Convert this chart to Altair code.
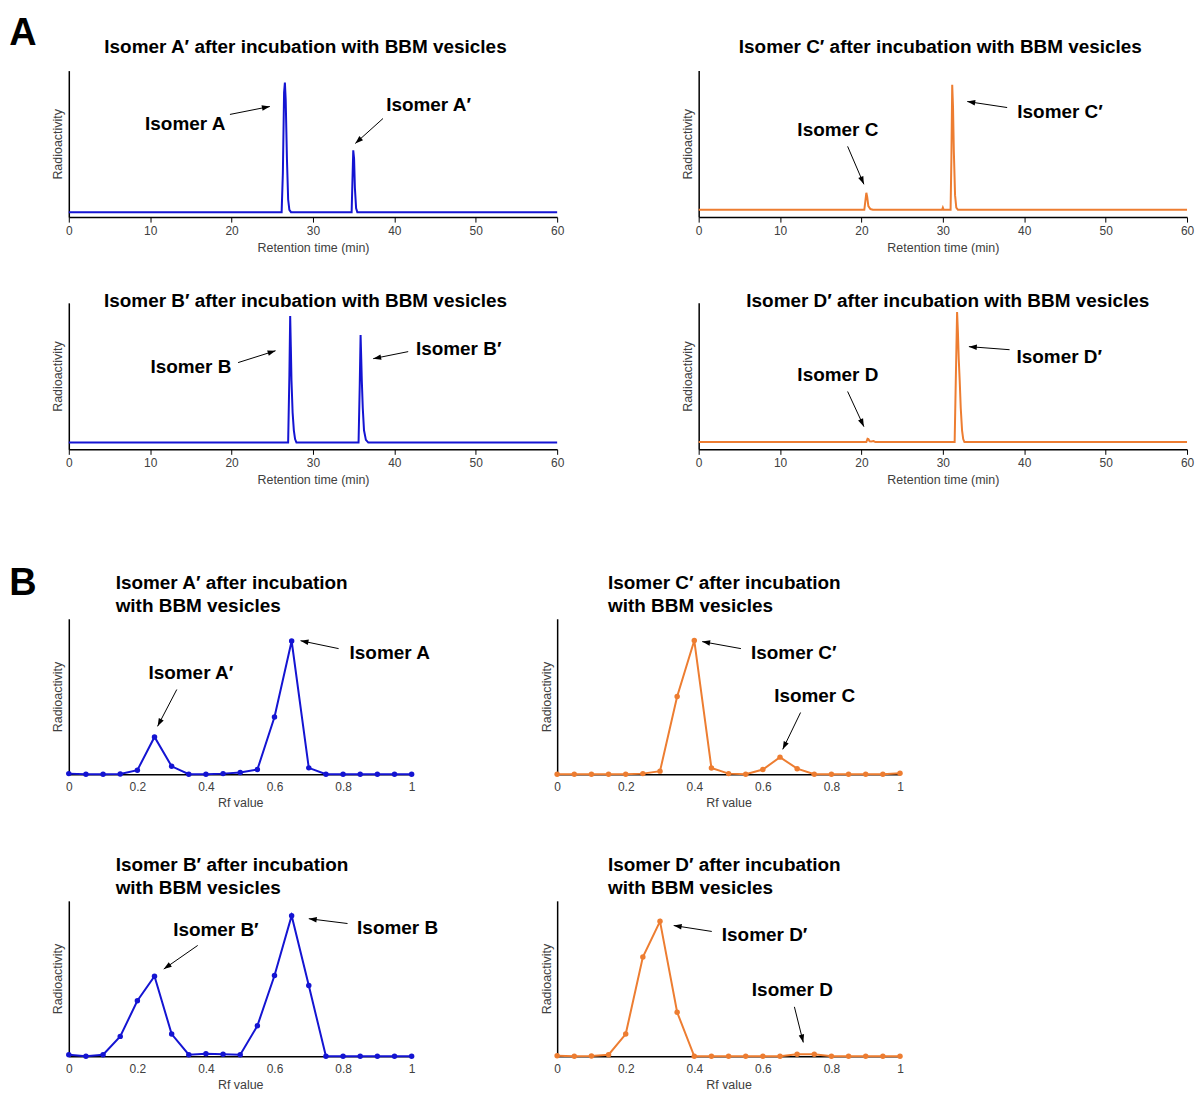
import math
import altair as alt
import pandas as pd

FONT = "Liberation Sans"
BLUE = "#1414D2"
ORANGE = "#ED7D31"
AXIS_GREY = "#404040"

# ---------------- Panel A: HPLC radiochromatograms ----------------
a1_time = [0, 26.15, 26.3, 26.45, 26.55, 26.65, 26.8, 26.95, 27.1, 27.3,
           34.75, 34.85, 34.95, 35.05, 35.15, 35.3, 35.45, 60]
a1_rad = [3.4, 3.4, 30, 85, 91.8, 80, 40, 12, 5, 3.4,
          3.4, 25, 45.6, 40, 20, 6, 3.4, 3.4]

a2_time = [0, 20.35, 20.5, 20.6, 20.7, 20.85, 21.1, 21.4, 29.9, 30.0, 30.1,
           30.95, 31.05, 31.15, 31.25, 31.35, 31.5, 31.65, 31.85, 60]
a2_rad = [5, 5, 12, 16.6, 14, 7.5, 5.5, 5, 5, 6.5, 5,
          5, 40, 90.3, 75, 45, 15, 6.5, 5, 5]

a3_time = [0, 26.95, 27.1, 27.2, 27.28, 27.36, 27.5, 27.65, 27.8, 27.97,
           35.6, 35.75, 35.85, 35.93, 36.0, 36.12, 36.27, 36.5, 36.8, 60]
a3_rad = [4.6, 4.6, 50, 91, 70, 47, 25, 13, 7, 4.6,
          4.6, 45, 78, 62, 47, 28, 13, 6.5, 4.6, 4.6]

a4_time = [0, 20.6, 20.75, 20.85, 21.0, 21.2, 21.5, 21.7,
           31.45, 31.6, 31.75, 31.85, 31.95, 32.07, 32.2, 32.36, 32.5, 32.65, 60]
a4_rad = [5, 5, 7.2, 7, 5.5, 5.3, 5.6, 5,
          5, 50, 93.7, 80, 62, 47, 28, 13, 7, 5, 5]

a_titles = [
    "Isomer A\u2032 after incubation with BBM vesicles",
    "Isomer C\u2032 after incubation with BBM vesicles",
    "Isomer B\u2032 after incubation with BBM vesicles",
    "Isomer D\u2032 after incubation with BBM vesicles",
]
a_ticks = [0, 10, 20, 30, 40, 50, 60]

# ---------------- Panel B: TLC profiles ----------------
rf_values = [0, 0.05, 0.1, 0.15, 0.2, 0.25, 0.3, 0.35, 0.4, 0.45, 0.5,
             0.55, 0.6, 0.65, 0.7, 0.75, 0.8, 0.85, 0.9, 0.95, 1.0]
b1_rad = [0.4, 0, 0, 0.2, 2.6, 24, 5.1, 0, 0, 0.4, 1.1,
          3.0, 36.8, 85.7, 4.1, 0, 0, 0, 0, 0, 0]
b2_rad = [0, 0, 0, 0, 0, 0.4, 2, 50, 86, 4, 0.4,
          0, 3, 11, 3.6, 0, 0, 0, 0, 0, 0.6]
b3_rad = [1, 0, 1, 12.8, 35.7, 51.5, 14.3, 1, 1.7, 1.3, 1,
          19.6, 52, 90.4, 45.5, 0, 0, 0, 0, 0, 0]
b4_rad = [0.4, 0, 0.2, 1, 14.3, 63.8, 86.8, 28.3, 0, 0, 0,
          0, 0, 0, 1.3, 1.3, 0, 0, 0, 0, 0]

b_titles = [
    ["Isomer A\u2032 after incubation", "with BBM vesicles"],
    ["Isomer C\u2032 after incubation", "with BBM vesicles"],
    ["Isomer B\u2032 after incubation", "with BBM vesicles"],
    ["Isomer D\u2032 after incubation", "with BBM vesicles"],
]
b_ticks = [0, 0.2, 0.4, 0.6, 0.8, 1]

# ---------------- Annotations (data coordinates) ----------------
a1_labels = [("Isomer A", 14.3, 63.3), ("Isomer A\u2032", 44.2, 76.2)]
a1_arrows = [(19.8, 70.1, 24.7, 75.5), (38.6, 67.3, 35.2, 50.3)]
a2_labels = [("Isomer C", 17.1, 59.2), ("Isomer C\u2032", 44.4, 71.4)]
a2_arrows = [(18.3, 48.3, 20.3, 22.4), (37.9, 74.8, 33.0, 78.9)]
a3_labels = [("Isomer B", 15.0, 56.5), ("Isomer B\u2032", 47.9, 68.7)]
a3_arrows = [(20.8, 59.2, 25.4, 67.3), (41.7, 66.7, 37.4, 61.9)]
a4_labels = [("Isomer D", 17.1, 51.0), ("Isomer D\u2032", 44.3, 63.3)]
a4_arrows = [(18.3, 39.5, 20.3, 15.5), (38.2, 68.0, 33.2, 70.1)]

b1_labels = [("Isomer A\u2032", 0.356, 65.4), ("Isomer A", 0.936, 78.2)]
b1_arrows = [(0.315, 54.5, 0.259, 30.8), (0.787, 80.8, 0.676, 85.9)]
b2_labels = [("Isomer C\u2032", 0.690, 78.2), ("Isomer C", 0.751, 50.6)]
b2_arrows = [(0.536, 80.8, 0.423, 85.3), (0.710, 39.7, 0.658, 16.0)]
b3_labels = [("Isomer B\u2032", 0.429, 80.9), ("Isomer B", 0.959, 82.2)]
b3_arrows = [(0.376, 71.3, 0.277, 56.1), (0.813, 85.4, 0.700, 88.5)]
b4_labels = [("Isomer D\u2032", 0.605, 77.7), ("Isomer D", 0.686, 42.7)]
b4_arrows = [(0.451, 80.3, 0.340, 84.1), (0.692, 31.8, 0.718, 8.9)]

A_W, A_H = 490, 147
A_RIGHT_OFFSET = 142      # gap between left and right HPLC plots
B_W, B_H = 344, 156
ARROW_SHAPE = "M0,0L-0.45,1.3L0.45,1.3Z"


def axis_style():
    return dict(domainColor="black", domainWidth=1.5, grid=False,
                labelFont=FONT, labelFontSize=12, labelColor=AXIS_GREY,
                labelFlush=False, labelOverlap=False,
                titleFont=FONT, titleFontSize=12.5, titleColor=AXIS_GREY,
                titleFontWeight="normal")


def panel(kind, xs, ys, color, title, labels, arrows, shift=0):
    if kind == "A":
        W, H, xmax = A_W, A_H, 60
        xaxis = alt.Axis(title="Retention time (min)", values=a_ticks, format="d",
                         ticks=True, tickSize=5, tickColor="black", tickWidth=1,
                         labelPadding=3, titlePadding=5, **axis_style())
    else:
        W, H, xmax = B_W, B_H, 1
        xaxis = alt.Axis(title="Rf value", values=b_ticks, format="~g",
                         ticks=False, tickSize=0, labelPadding=7, titlePadding=4,
                         **axis_style())
    yaxis = alt.Axis(title="Radioactivity", ticks=False, labels=False,
                     titlePadding=4, offset=-shift, **axis_style())
    xsc = alt.Scale(domain=[0, xmax], range=[shift, shift + W], nice=False, zero=False)
    ysc = alt.Scale(domain=[0, 100], nice=False, zero=False)

    def enc(xf, yf):
        return dict(x=alt.X(xf, scale=xsc, axis=xaxis),
                    y=alt.Y(yf, scale=ysc, axis=yaxis))

    df = pd.DataFrame({"x": xs, "y": ys})
    base = alt.Chart(df)
    layers = [base.mark_line(color=color, strokeWidth=2).encode(**enc("x:Q", "y:Q"))]
    if kind == "B":
        layers.append(base.mark_point(filled=True, size=30, color=color, opacity=1)
                      .encode(**enc("x:Q", "y:Q")))

    adf = pd.DataFrame(arrows, columns=["xs", "ys", "xe", "ye"])
    layers.append(alt.Chart(adf).mark_rule(color="black", strokeWidth=1)
                  .encode(x2="xe:Q", y2="ye:Q", **enc("xs:Q", "ys:Q")))
    for (x0, y0, x1, y1) in arrows:
        dx = (x1 - x0) * W / xmax
        dy = -(y1 - y0) * H / 100.0
        ang = math.degrees(math.atan2(dx, -dy)) % 360
        hdf = pd.DataFrame({"xe": [x1], "ye": [y1]})
        layers.append(
            alt.Chart(hdf).mark_point(shape=ARROW_SHAPE, filled=True, size=150,
                                      color="black", opacity=1, strokeWidth=0,
                                      angle=round(ang, 2))
            .encode(**enc("xe:Q", "ye:Q"))
        )

    ldf = pd.DataFrame(labels, columns=["label", "lx", "ly"])
    layers.append(
        alt.Chart(ldf).mark_text(font=FONT, fontSize=19, fontWeight="bold",
                                 color="black", align="center", baseline="middle")
        .encode(text="label:N", **enc("lx:Q", "ly:Q"))
    )
    return alt.layer(*layers).properties(width=W + shift, height=H, title=title)


def a_title(text, offset, dx):
    return alt.TitleParams(text=text, font=FONT, fontSize=19, fontWeight="bold",
                           color="black", anchor="middle", frame="group",
                           offset=offset, dx=dx)


def b_title(lines, offset, dx):
    return alt.TitleParams(text=lines, font=FONT, fontSize=19, fontWeight="bold",
                           color="black", anchor="start", frame="group",
                           offset=offset, dx=dx, lineHeight=23)


def spacer(w, h, letter="", lx=0, ly=0):
    return alt.Chart(pd.DataFrame({"s": [letter]})).mark_text(
        font=FONT, fontSize=38, fontWeight="bold", color="black",
        align="center", baseline="middle").encode(
        x=alt.value(lx), y=alt.value(ly), text="s:N"
    ).properties(width=w, height=h)


S = A_RIGHT_OFFSET
A1 = panel("A", a1_time, a1_rad, BLUE, a_title(a_titles[0], 14, -7.5), a1_labels, a1_arrows)
A2 = panel("A", a2_time, a2_rad, ORANGE, a_title(a_titles[1], 14, 68.5), a2_labels, a2_arrows, shift=S)
A3 = panel("A", a3_time, a3_rad, BLUE, a_title(a_titles[2], -8, -7.5), a3_labels, a3_arrows)
A4 = panel("A", a4_time, a4_rad, ORANGE, a_title(a_titles[3], -8, 76), a4_labels, a4_arrows, shift=S)

B1 = panel("B", rf_values, b1_rad, BLUE, b_title(b_titles[0], 3, 47), b1_labels, b1_arrows)
B2 = panel("B", rf_values, b2_rad, ORANGE, b_title(b_titles[1], 3, 51), b2_labels, b2_arrows)
B3 = panel("B", rf_values, b3_rad, BLUE, b_title(b_titles[2], 3, 47), b3_labels, b3_arrows)
B4 = panel("B", rf_values, b4_rad, ORANGE, b_title(b_titles[3], 3, 51), b4_labels, b4_arrows)

cells = [
    spacer(1, 1, "A", -46, -36), spacer(1, 1),
    A1, A2,
    spacer(1, 86), spacer(1, 86),
    A3, A4,
    spacer(1, 170, "B", -46, 135), spacer(1, 170),
    B1, B2,
    spacer(1, 127), spacer(1, 127),
    B3, B4,
]

chart = alt.concat(
    *cells, columns=2, spacing=0, bounds="flush", align="each",
).properties(
    padding={"left": 0, "top": 4, "right": 0, "bottom": 0}
).configure_view(stroke="transparent")

chart.save("out.html", embed_options={"renderer": "svg", "actions": False})
